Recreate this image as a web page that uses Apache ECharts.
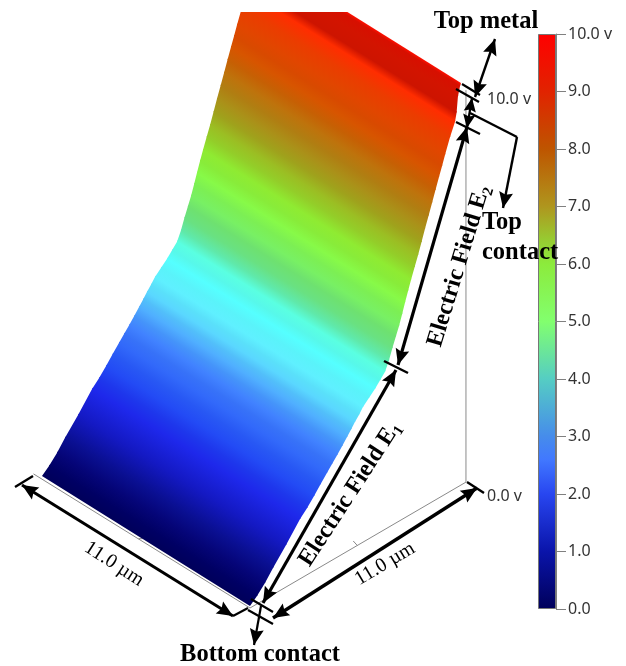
<!DOCTYPE html>
<html><head><meta charset="utf-8">
<style>html,body{margin:0;padding:0;background:#fff}#c{width:626px;height:666px}</style>
<script src="https://cdn.jsdelivr.net/npm/echarts@6/dist/echarts.min.js"></script>
</head><body><div id="c"></div>
<script>
// Surface profile: potential against depth
const contactWidthUm = 11;
const depthUm = [0,0.365,0.78,1.2,1.88,2.61,2.97,3.34,3.67,4.01,4.27,4.54,4.8,5.06,5.27,5.47,5.68,5.89,6.2,6.52,6.78,7.04,7.24,7.42,7.6,7.77,7.93,8.08,8.24,8.39,8.58,8.76,8.94,9.12,9.31,9.49,9.67,9.85,10.01,10.17,10.43,10.69,10.77,10.84,10.95,11];
const potentialV = [0,0.15,0.36,0.62,1,1.45,1.62,1.82,2.02,2.21,2.36,2.51,2.66,2.82,2.95,3.08,3.2,3.34,3.48,3.62,3.76,3.9,4.12,4.38,4.62,4.84,5.09,5.33,5.58,5.81,6.08,6.33,6.6,6.88,7.16,7.43,7.7,7.97,8.2,8.44,8.81,9.12,9.32,9.7,9.94,10];
const surfaceColours = ['#00005a','#000064','#050578','#0a0f91','#1419c3','#1e28eb','#1e37ec','#234bf5','#2858f4','#3269fa','#3772f8','#4182ff','#4594fa','#50afff','#52bffa','#5ad7ff','#5ae0fa','#5ff0ff','#5af3fa','#55ffff','#57f8ea','#5affe1','#5fe9ab','#69e182','#6ee170','#78f064','#7cef54','#87fa48','#88ec3a','#8feb32','#93ce29','#9bbe23','#9fa21c','#aa9119','#b07e12','#be730c','#c66004','#d75500','#d84a00','#e14600','#eb3c00','#ff2d00','#cd1400','#d21400','#d70f00','#ff0f00'];
// Colour bar
const barLevels = [0,1,2,2.6,3,4,5,6,6.4,7,8,9,10];
const barColours = ['#00005a','#0a14aa','#2846f0','#4178ff','#468ceb','#55cdc3','#82ff6e','#8ceb3c','#96cd32','#af961e','#be5500','#e12300','#ff0000'];
const barTicks = [0,1,2,3,4,5,6,7,8,9,10];
// Box edges of the 3-D view [width µm, depth µm, potential V]
const boxEdges = [
  [[0,0,-0.05],[0,11.26,0]],
  [[0,0,-0.05],[11.45,0,-0.08]],
  [[0,11.26,0],[0,11.26,9.75]],
  [[5.9,0,-0.06],[5.9,0.22,-0.12]],
  [[0,5.6,-0.03],[0.22,5.6,0.02]]
];
// Annotation strokes, in plot units: x1,y1,x2,y2,headAtStart,headAtEnd,lineWidth
const dimensionArrows = [
  [22,485,233,616,1,1,3],[233,616,248,608,0,0,2.2],[15,487,33,476,0,0,2.4],
  [273,618,477,488,1,1,3.4],[467,482,484,493,0,0,2.4],
  [263,603,396,370,1,1,3.2],[398,365,467,127,1,1,3.2],
  [384,361,408,373,0,0,2.4],
  [251,599,273,612,0,0,2.2],[248,610,273,624,0,0,2.2],
  [261,606,254,645,0,1,2.2],
  [467,128,472,98,1,1,2.2],
  [456,122,480,134,0,0,2.2],[462,84,480,95,0,0,2.2],[456,89,479,102,0,0,2.2],
  [475,97,495,39,1,1,2.4],
  [470,113,517,137,0,0,2.4],[517,137,503,208,0,1,2.4]
];
const serif = '"Liberation Serif","Times New Roman",serif';
const sans = '"Noto Sans",Tahoma,sans-serif';

// Oblique view: plot position of a point of the device
function project(w, d, v) {
  return [250 - 18.91 * w + 19.18 * d, 606 - 11.82 * w - 11 * d - 40.2 * v];
}

function renderSurface(params, api) {
  const i = api.value(0);
  const j = Math.min(i + 2, depthUm.length - 1);
  const a = api.coord(project(0, depthUm[i], potentialV[i]));
  const b = api.coord(project(0, depthUm[i + 1], potentialV[i + 1]));
  const b2 = api.coord(project(0, depthUm[j], potentialV[j]));
  const e = api.coord(project(contactWidthUm, depthUm[i], potentialV[i]));
  const c = api.coord(project(contactWidthUm, depthUm[i + 1], potentialV[i + 1]));
  const c2 = api.coord(project(contactWidthUm, depthUm[j], potentialV[j]));
  // Each strip runs on a little way under the next one, so no seam shows.
  const l = Math.hypot(b2[0] - b[0], b2[1] - b[1]) || 1;
  const t = Math.min(1, 1.5 / l);
  const bo = [b[0] + (b2[0] - b[0]) * t, b[1] + (b2[1] - b[1]) * t];
  const co = [c[0] + (c2[0] - c[0]) * t, c[1] + (c2[1] - c[1]) * t];
  const dirx = e[0] - a[0], diry = e[1] - a[1];
  const len = Math.hypot(dirx, diry) || 1;
  const nx = -diry / len, ny = dirx / len;
  const s = (b[0] - a[0]) * nx + (b[1] - a[1]) * ny;
  const grad = new echarts.graphic.LinearGradient(
    a[0], a[1], a[0] + s * nx, a[1] + s * ny,
    [{offset: 0, color: surfaceColours[i]}, {offset: 1, color: surfaceColours[i + 1]}], true);
  return {type: 'polygon', shape: {points: [a, b, bo, co, c, e]}, style: {fill: grad}};
}
function renderBox(params, api) {
  const edge = boxEdges[api.value(0)];
  const p = api.coord(project.apply(null, edge[0])), q = api.coord(project.apply(null, edge[1]));
  return {type: 'line', shape: {x1: p[0], y1: p[1], x2: q[0], y2: q[1]}, style: {stroke: '#8a8a8a', lineWidth: 1}};
}
function head(tip, from) {
  const dx = from[0] - tip[0], dy = from[1] - tip[1], l = Math.hypot(dx, dy) || 1;
  const ux = dx / l, uy = dy / l, L = Math.min(16, l * 0.45), W = Math.min(7, L * 0.45);
  return {type: 'polygon', shape: {points: [
    tip,
    [tip[0] + ux * L - uy * W, tip[1] + uy * L + ux * W],
    [tip[0] + ux * L * 0.85, tip[1] + uy * L * 0.85],
    [tip[0] + ux * L + uy * W, tip[1] + uy * L - ux * W]
  ]}, style: {fill: '#000'}};
}
function renderArrow(params, api) {
  const r = dimensionArrows[api.value(0)];
  const p = api.coord([r[0], r[1]]), q = api.coord([r[2], r[3]]);
  const children = [{type: 'line', shape: {x1: p[0], y1: p[1], x2: q[0], y2: q[1]}, style: {stroke: '#000', lineWidth: r[6]}}];
  if (r[4]) children.push(head(p, q));
  if (r[5]) children.push(head(q, p));
  return {type: 'group', children};
}
function label(text, x, y, deg, font, extra) {
  return {type: 'text', x, y, rotation: (deg || 0) * Math.PI / 180, z: 20, silent: true,
    style: Object.assign({text, align: 'center', verticalAlign: 'middle', font, fill: '#000'}, extra || {})};
}
const boldFont = 'bold 24.5px ' + serif;
const subRich = {a: {font: 'bold 24px ' + serif, fill: '#000', verticalAlign: 'middle', lineHeight: 28},
                 s: {font: 'bold 15px ' + serif, fill: '#000', verticalAlign: 'bottom', lineHeight: 22}};

const chart = echarts.init(document.getElementById('c'), null, {renderer: 'canvas', width: 626, height: 666});
chart.setOption({
  animation: false,
  backgroundColor: '#fff',
  grid: [
    {left: 0, top: 0, width: 626, height: 666},
    {left: 0, top: 12, width: 626, height: 654},
    {left: 538, top: 34, width: 18, height: 575}
  ],
  xAxis: [
    {gridIndex: 0, type: 'value', min: 0, max: 626, show: false},
    {gridIndex: 1, type: 'value', min: 0, max: 626, show: false},
    {gridIndex: 2, type: 'category', data: ['V'], show: false}
  ],
  yAxis: [
    {gridIndex: 0, type: 'value', min: 0, max: 666, inverse: true, show: false},
    {gridIndex: 1, type: 'value', min: 12, max: 666, inverse: true, show: false},
    {gridIndex: 2, type: 'value', min: 0, max: 10, interval: 1, position: 'right',
     axisLine: {show: true, lineStyle: {color: '#808080', width: 1}},
     axisTick: {show: true, length: 10, lineStyle: {color: '#808080', width: 1}},
     splitLine: {show: false},
     axisLabel: {margin: 12, color: '#333', fontFamily: sans, fontSize: 16,
       formatter: v => barTicks.includes(v) ? (v === 10 ? '10.0 v' : v.toFixed(1)) : ''}}
  ],
  series: [
    {type: 'custom', name: 'box', xAxisIndex: 0, yAxisIndex: 0, clip: false, silent: true,
     renderItem: renderBox, data: boxEdges.map((e, i) => [i])},
    {type: 'custom', name: 'potential surface', xAxisIndex: 1, yAxisIndex: 1, clip: true, silent: true,
     renderItem: renderSurface, data: depthUm.slice(0, -1).map((d, i) => [i])},
    {type: 'bar', name: 'colour bar', xAxisIndex: 2, yAxisIndex: 2, barWidth: '100%', silent: true,
     data: [{value: 10, itemStyle: {
       borderColor: '#777', borderWidth: 1,
       color: new echarts.graphic.LinearGradient(0, 1, 0, 0,
         barLevels.map((l, i) => ({offset: l / 10, color: barColours[i]})))}}]},
    {type: 'custom', name: 'annotations', xAxisIndex: 0, yAxisIndex: 0, clip: false, silent: true, z: 10,
     renderItem: renderArrow, data: dimensionArrows.map((a, i) => [i])}
  ],
  graphic: [
    label('Top metal', 486, 22, 0, boldFont),
    label('Top', 482, 223, 0, boldFont, {align: 'left'}),
    label('contact', 482, 253, 0, boldFont, {align: 'left'}),
    label('Bottom contact', 260, 655, 0, boldFont),
    label('{a|Electric Field E}{s|2}', 459, 266, 73, null, {rich: subRich}),
    label('{a|Electric Field E}{s|1}', 350, 494, 57, null, {rich: subRich}),
    label('11.0 \u00b5m', 114, 564, -33, '20px ' + serif),
    label('11.0 \u00b5m', 385, 564, 31, '20px ' + serif),
    label('10.0 v', 487, 99, 0, '16px ' + sans, {align: 'left', fill: '#333'}),
    label('0.0 v', 487, 496, 0, '16px ' + sans, {align: 'left', fill: '#333'})
  ]
});
</script></body></html>
